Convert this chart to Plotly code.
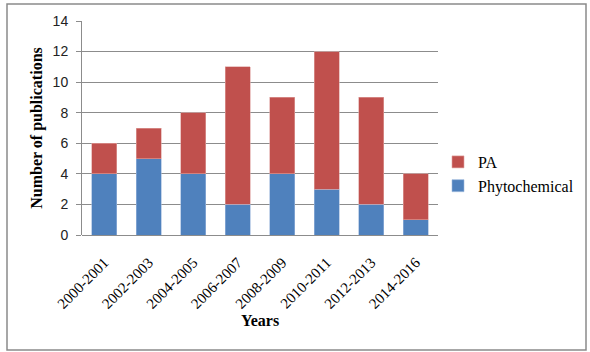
import plotly.graph_objects as go

categories = ["2000-2001", "2002-2003", "2004-2005", "2006-2007",
              "2008-2009", "2010-2011", "2012-2013", "2014-2016"]
phytochemical = [4, 5, 4, 2, 4, 3, 2, 1]
pa = [2, 2, 4, 9, 5, 9, 7, 3]
y_ticks = [0, 2, 4, 6, 8, 10, 12, 14]

BLUE = "#4F81BD"
RED = "#C0504D"
GRID = "#8C8C8C"

fig = go.Figure()
fig.add_trace(go.Bar(x=categories, y=phytochemical, name="Phytochemical",
                     marker=dict(color=BLUE, line=dict(color="#9DB8DC", width=0.6))))
fig.add_trace(go.Bar(x=categories, y=pa, name="PA",
                     marker=dict(color=RED, line=dict(color="#E0A3A1", width=0.6))))

W, H = 590, 352
L, R, T, B = 82, 152, 21, 117
pw, ph = W - L - R, H - T - B

def px_x(px):
    return (px - L) / pw

def px_y(py):
    return (H - B - py) / ph

fig.update_layout(
    width=W, height=H,
    margin=dict(l=L, r=R, t=T, b=B, autoexpand=False),
    barmode="stack",
    bargap=0.43,
    plot_bgcolor="white",
    paper_bgcolor="white",
    font=dict(family="Liberation Serif", color="black"),
    showlegend=True,
    legend=dict(
        x=px_x(438), y=px_y(145), xanchor="left", yanchor="top",
        traceorder="reversed",
        font=dict(family="Liberation Serif", size=16, color="black"),
        itemwidth=30, tracegroupgap=0, bgcolor="rgba(0,0,0,0)",
    ),
    xaxis=dict(
        tickangle=-45,
        tickfont=dict(family="Liberation Serif", size=15, color="black"),
        showgrid=False, showline=False,
        ticks="outside", ticklen=12, tickcolor="rgba(0,0,0,0)",
        title=dict(text="<b>Years</b>", font=dict(family="Liberation Serif", size=16),
                   standoff=2),
    ),
    yaxis=dict(
        range=[0, 14], tickvals=y_ticks,
        tickfont=dict(family="Liberation Sans", size=14, color="#222"),
        showgrid=True, gridcolor=GRID, gridwidth=1,
        zeroline=True, zerolinecolor=GRID, zerolinewidth=1,
        showline=True, linecolor=GRID, linewidth=1,
        ticks="outside", ticklen=5, tickcolor=GRID, ticklabelstandoff=5,
        title=dict(text="<b>Number of publications</b>",
                   font=dict(family="Liberation Serif", size=16), standoff=6),
    ),
    shapes=[dict(type="rect", xref="paper", yref="paper",
                 x0=px_x(7), x1=px_x(586), y0=px_y(350), y1=px_y(4),
                 line=dict(color="#8A8A8A", width=1.5), layer="below")],
)

fig.write_html("out.html", config={"displayModeBar": False},
               post_script="document.body.style.margin='0';document.body.style.padding='0';")
